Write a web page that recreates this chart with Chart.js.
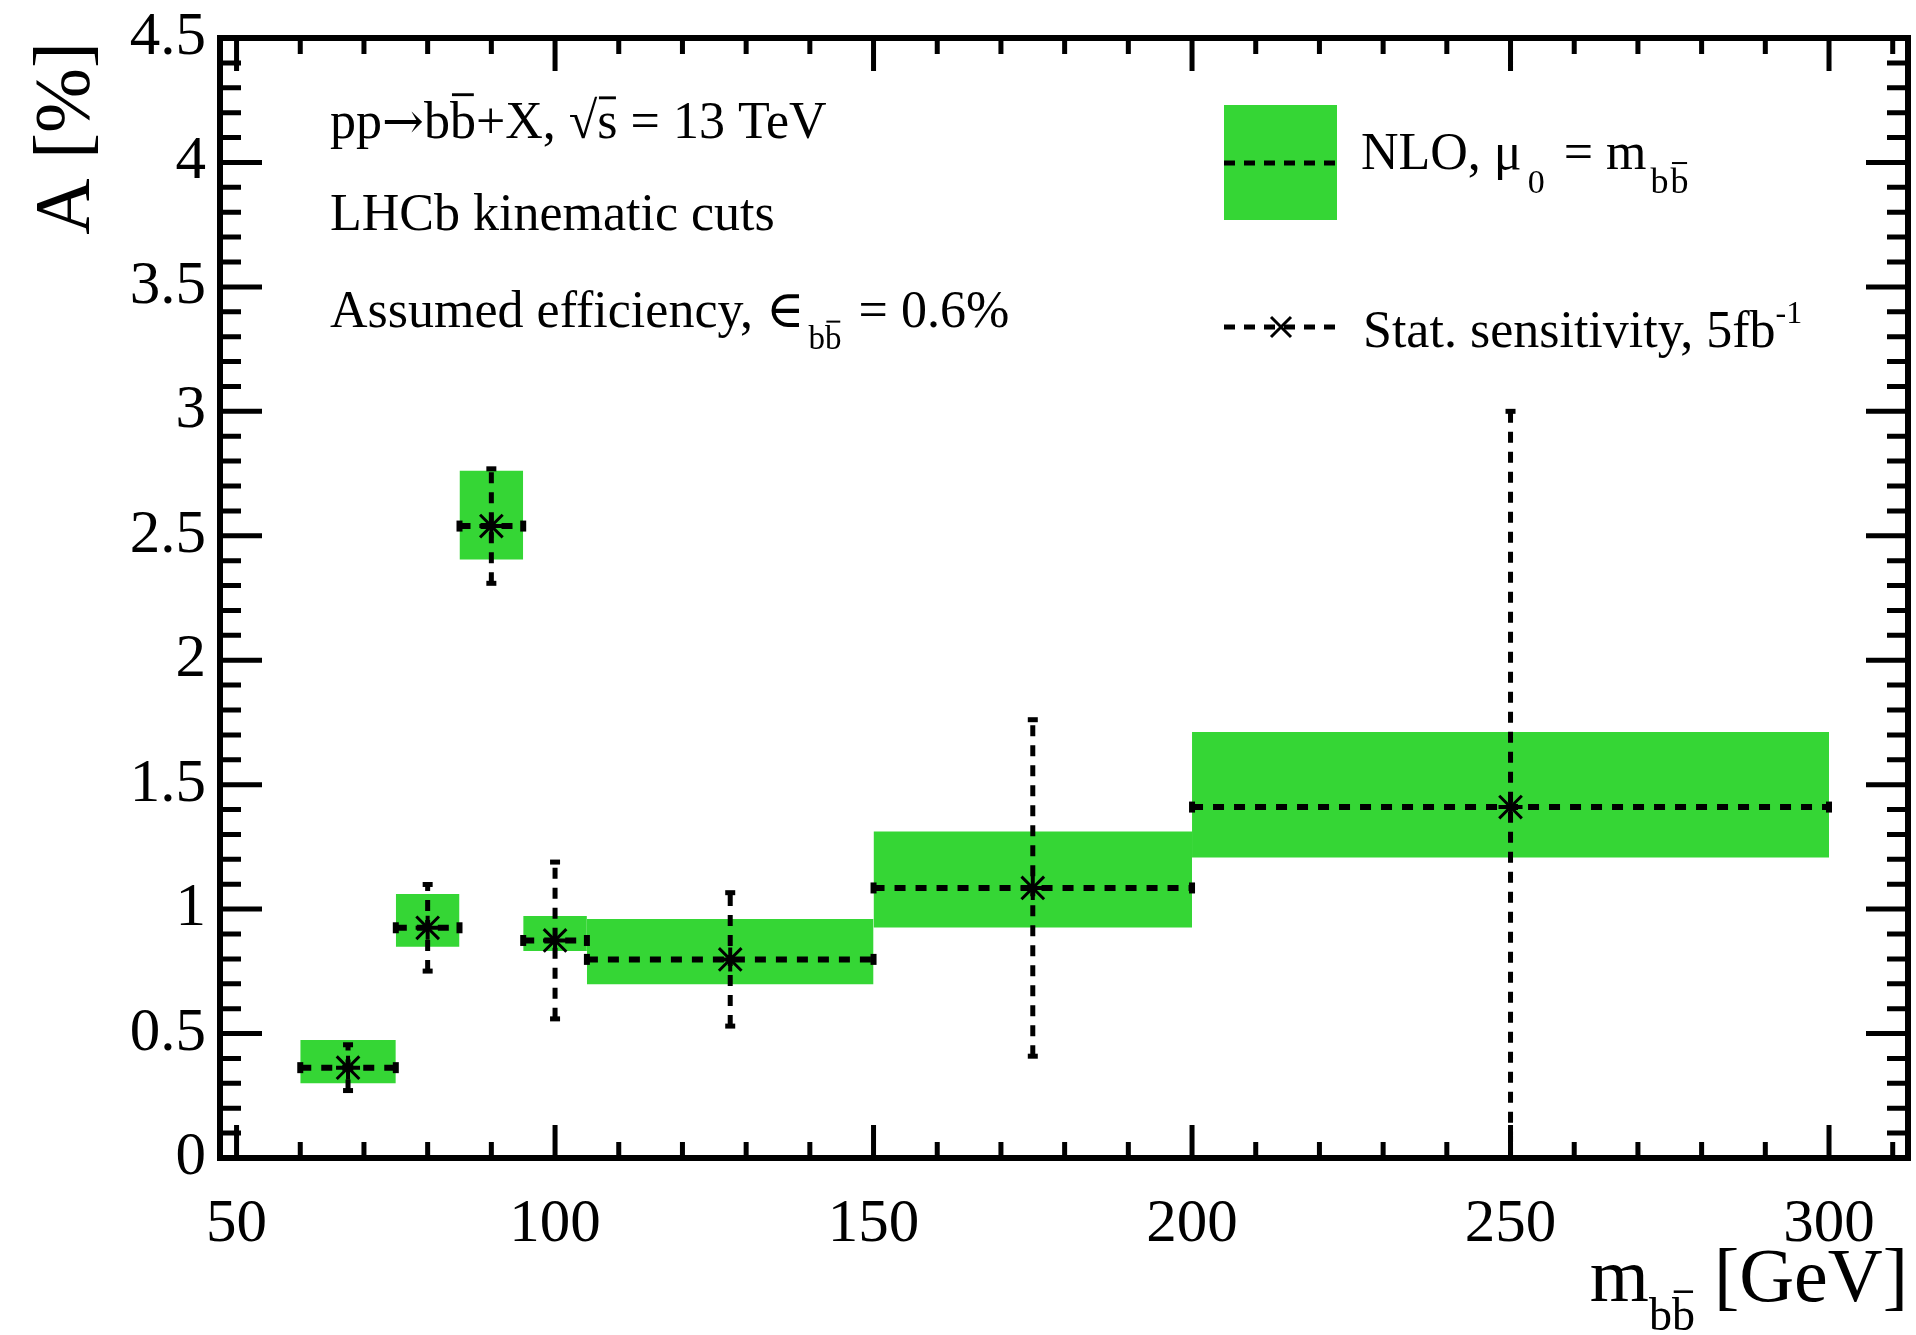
<!DOCTYPE html>
<html>
<head>
<meta charset="utf-8">
<script src="https://cdn.jsdelivr.net/npm/chart.js@4.4.0/dist/chart.umd.min.js"></script>
<style>
  html, body { margin: 0; padding: 0; background: #fff; }
</style>
</head>
<body>
<canvas id="asym" width="1916" height="1335"></canvas>
<script>
// m_bb bins [GeV]
var binLow  = [60, 75, 85, 95, 105, 150, 200];
var binHigh = [75, 85, 95, 105, 150, 200, 300];

// NLO asymmetry A [%], mu0 = m_bb, with scale band
var nloCentral  = [0.363, 0.925, 2.539, 0.874, 0.798, 1.085, 1.41];
var nloBandLow  = [0.300, 0.849, 2.405, 0.832, 0.698, 0.926, 1.207];
var nloBandHigh = [0.474, 1.061, 2.761, 0.972, 0.960, 1.312, 1.712];

// statistical sensitivity, 5 fb^-1 (placed at bin centre)
var statX     = [67.5, 80, 90, 100, 127.5, 175, 250];
var statError = [0.092, 0.174, 0.230, 0.315, 0.268, 0.676, 1.59];

// axis labels
var xTickValues = [50, 100, 150, 200, 250, 300];
var yTickValues = [0, 0.5, 1, 1.5, 2, 2.5, 3, 3.5, 4, 4.5];

var serif = '"Liberation Serif", "Times New Roman", "DejaVu Serif", serif';
var green = 'rgb(53, 214, 53)';

var datasets = [];

// green bands, one per bin
for (var i = 0; i < binLow.length; i++) {
  datasets.push({
    data: [{x: binLow[i], y: nloBandHigh[i]}, {x: binHigh[i], y: nloBandHigh[i]}],
    fill: {value: nloBandLow[i]},
    backgroundColor: green,
    borderColor: 'rgba(0,0,0,0)',
    borderWidth: 1,
    pointRadius: 0,
    order: 4
  });
}

// dashed central value across each bin, with end caps
var centralPts = [];
for (var i = 0; i < binLow.length; i++) {
  centralPts.push({x: binLow[i], y: nloCentral[i]});
  centralPts.push({x: binHigh[i], y: nloCentral[i]});
  centralPts.push({x: binHigh[i], y: null});
}
datasets.push({
  data: centralPts,
  borderColor: '#000',
  borderWidth: 6,
  borderDash: [11, 10],
  fill: false,
  spanGaps: false,
  pointStyle: 'line',
  pointRotation: 90,
  pointRadius: 5.5,
  pointBorderWidth: 6,
  pointBorderColor: '#000',
  order: 2
});

// dashed vertical stat. error bars, with caps
var errPts = [];
for (var i = 0; i < statX.length; i++) {
  errPts.push({x: statX[i], y: nloCentral[i] - statError[i]});
  errPts.push({x: statX[i], y: nloCentral[i] + statError[i]});
  errPts.push({x: statX[i], y: null});
}
datasets.push({
  data: errPts,
  borderColor: '#000',
  borderWidth: 5,
  borderDash: [11, 9],
  fill: false,
  spanGaps: false,
  pointStyle: 'line',
  pointRotation: 0,
  pointRadius: 5,
  pointBorderWidth: 5,
  pointBorderColor: '#000',
  order: 2
});

// asterisk markers = x + plus
var markerPts = statX.map(function (x, i) { return {x: x, y: nloCentral[i]}; });
datasets.push({
  data: markerPts, showLine: false, fill: false,
  pointStyle: 'crossRot', pointRadius: 16, pointBorderWidth: 3, pointBorderColor: '#000',
  order: 1
});
datasets.push({
  data: markerPts, showLine: false, fill: false,
  pointStyle: 'cross', pointRadius: 12, pointBorderWidth: 4, pointBorderColor: '#000',
  order: 1
});

// text with sub/superscripts and overlines
function drawRich(ctx, x, y, parts, align) {
  function fontOf(p) { return p.s + 'px ' + (p.f || serif); }
  var total = 0;
  parts.forEach(function (p) {
    ctx.font = fontOf(p);
    total += ctx.measureText(p.t).width + (p.gap || 0);
  });
  if (align === 'right') x -= total;
  ctx.textAlign = 'left';
  ctx.textBaseline = 'alphabetic';
  parts.forEach(function (p) {
    var dy = p.dy || 0;
    x += p.gap || 0;
    ctx.font = fontOf(p);
    ctx.fillText(p.t, x, y + dy);
    var w = ctx.measureText(p.t).width;
    if (p.bar) {
      var th = Math.max(2, p.s * 0.055);
      ctx.fillRect(x + w * 0.08, y + dy - p.s * p.bar, w * 0.84, th);
    }
    x += w;
  });
}

// keep the plot frame exactly where layout puts it
function noPad(s) {
  s.paddingLeft = 0; s.paddingRight = 0; s.paddingTop = 0; s.paddingBottom = 0;
}

var framePlugin = {
  id: 'frame',
  afterDraw: function (chart) {
    var ctx = chart.ctx;
    var a = chart.chartArea;
    var xs = chart.scales.x, ys = chart.scales.y;
    ctx.save();
    ctx.strokeStyle = '#000';
    ctx.fillStyle = '#000';

    // inward ticks on all four sides
    ctx.lineWidth = 5;
    ctx.beginPath();
    for (var v = 50; v <= 310; v += 10) {
      var px = xs.getPixelForValue(v);
      var len = (v % 50 === 0) ? 33 : 16;
      ctx.moveTo(px, a.bottom); ctx.lineTo(px, a.bottom - len);
      ctx.moveTo(px, a.top); ctx.lineTo(px, a.top + len);
    }
    for (var k = 0; k <= 45; k++) {
      var py = ys.getPixelForValue(k / 10);
      var len2 = (k % 5 === 0) ? 42 : 21;
      ctx.moveTo(a.left, py); ctx.lineTo(a.left + len2, py);
      ctx.moveTo(a.right, py); ctx.lineTo(a.right - len2, py);
    }
    ctx.stroke();

    // frame
    ctx.lineWidth = 6;
    ctx.strokeRect(a.left, a.top, a.right - a.left, a.bottom - a.top);

    // axis titles
    ctx.save();
    ctx.translate(88, a.top + 4);
    ctx.rotate(-Math.PI / 2);
    ctx.font = '78px ' + serif;
    ctx.textAlign = 'right';
    ctx.textBaseline = 'alphabetic';
    ctx.fillText('A [%]', 0, 0);
    ctx.restore();

    drawRich(ctx, a.right, 1301, [
      {t: 'm', s: 76},
      {t: 'b', s: 46, dy: 29},
      {t: 'b', s: 46, dy: 29, bar: 0.86},
      {t: ' [GeV]', s: 76}
    ], 'right');

    // process info
    drawRich(ctx, 330, 138, [
      {t: 'pp', s: 52},
      {t: '\u2192', s: 50, f: '"DejaVu Serif", serif'},
      {t: 'b', s: 52},
      {t: 'b', s: 52, bar: 0.86},
      {t: '+X, \u221A', s: 52},
      {t: 's', s: 52, bar: 0.80},
      {t: ' = 13 TeV', s: 52}
    ]);
    drawRich(ctx, 330, 230, [{t: 'LHCb kinematic cuts', s: 52}]);
    drawRich(ctx, 330, 327, [
      {t: 'Assumed efficiency, \u2208', s: 52},
      {t: 'b', s: 33, dy: 22, gap: 4},
      {t: 'b', s: 33, dy: 22, bar: 0.86},
      {t: ' = 0.6%', s: 52, gap: 4}
    ]);

    // legend: NLO band
    ctx.fillStyle = green;
    ctx.fillRect(1224, 105, 113, 115);
    ctx.fillStyle = '#000';
    ctx.lineWidth = 5;
    ctx.setLineDash([11, 9]);
    ctx.beginPath();
    ctx.moveTo(1224, 163); ctx.lineTo(1337, 163);
    ctx.moveTo(1224, 327); ctx.lineTo(1337, 327);
    ctx.stroke();
    ctx.setLineDash([]);
    ctx.lineWidth = 3;
    ctx.beginPath();
    ctx.moveTo(1271, 317); ctx.lineTo(1291, 337);
    ctx.moveTo(1271, 337); ctx.lineTo(1291, 317);
    ctx.stroke();

    drawRich(ctx, 1361, 169, [
      {t: 'NLO, \u03BC', s: 52},
      {t: '0', s: 34, dy: 24, gap: 6},
      {t: ' = m', s: 52, gap: 6},
      {t: 'b', s: 36, dy: 24, gap: 4},
      {t: 'b', s: 36, dy: 24, bar: 0.86, gap: 2}
    ]);
    drawRich(ctx, 1363, 347, [
      {t: 'Stat. sensitivity, 5fb', s: 52},
      {t: '-1', s: 32, dy: -24}
    ]);
    ctx.restore();
  }
};

new Chart(document.getElementById('asym'), {
  type: 'line',
  data: {datasets: datasets},
  options: {
    responsive: false,
    animation: false,
    devicePixelRatio: 1,
    layout: {autoPadding: false, padding: {left: 0, top: 38, right: 8, bottom: 0}},
    plugins: {legend: {display: false}, tooltip: {enabled: false}},
    scales: {
      x: {
        type: 'linear', min: 47.4, max: 312.4,
        grid: {display: false, drawTicks: false},
        border: {display: false},
        afterBuildTicks: function (s) { s.ticks = xTickValues.map(function (v) { return {value: v}; }); },
        afterFit: function (s) { s.height = 177; noPad(s); },
        ticks: {
          font: {family: serif, size: 61}, color: '#000', padding: 30,
          maxRotation: 0, autoSkip: false,
          callback: function (v) { return String(v); }
        }
      },
      y: {
        type: 'linear', min: 0, max: 4.5,
        grid: {display: false, drawTicks: false},
        border: {display: false},
        afterBuildTicks: function (s) { s.ticks = yTickValues.map(function (v) { return {value: v}; }); },
        afterFit: function (s) { s.width = 220; noPad(s); },
        ticks: {
          font: {family: serif, size: 61}, color: '#000', padding: 14,
          autoSkip: false,
          callback: function (v) { return String(v); }
        }
      }
    }
  },
  plugins: [framePlugin]
});
</script>
</body>
</html>
